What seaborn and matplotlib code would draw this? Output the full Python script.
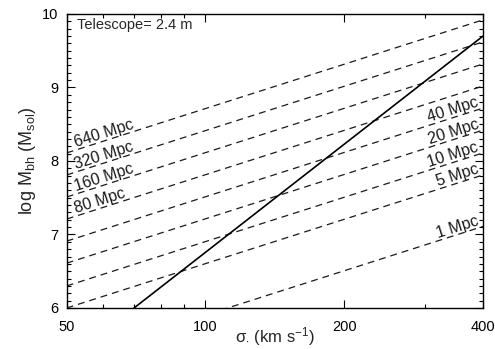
import numpy as np
import pandas as pd
import seaborn as sns
import matplotlib
matplotlib.use('Agg')
import matplotlib.pyplot as plt
from matplotlib.ticker import FixedLocator, FixedFormatter, NullFormatter, MultipleLocator

# distances (Mpc) of the dashed "resolvable" lines, read at sigma = 50 and 400
distances = [640, 320, 160, 80, 40, 20, 10, 5, 1]
sigma_ends = [50, 400]
logm_at_50 = [8.11, 7.81, 7.51, 7.21, 6.91, 6.61, 6.30, 6.00, 5.30]
logm_at_400 = [9.92, 9.62, 9.32, 9.02, 8.72, 8.42, 8.11, 7.81, 7.11]
left_labels = [640, 320, 160, 80]
right_labels = [40, 20, 10, 5, 1]

# M-sigma relation (solid line)
msig_sigma = [70, 400]
msig_logm = [6.0, 9.70]

xticks = [50, 100, 200, 400]
xminor = [60, 70, 80, 90, 300]

sns.set_style('ticks')
plt.rcParams['font.family'] = ['Liberation Sans', 'DejaVu Sans']
plt.rcParams['mathtext.fontset'] = 'custom'
plt.rcParams['mathtext.rm'] = 'Liberation Sans'
plt.rcParams['mathtext.it'] = 'Liberation Sans:italic'
plt.rcParams['mathtext.bf'] = 'Liberation Sans:bold'

rows = []
for d, m0, m1 in zip(distances, logm_at_50, logm_at_400):
    rows.append({'dist': d, 'sigma': sigma_ends[0], 'logM': m0})
    rows.append({'dist': d, 'sigma': sigma_ends[1], 'logM': m1})
df_lines = pd.DataFrame(rows)
df_msig = pd.DataFrame({'sigma': msig_sigma, 'logM': msig_logm})

fig = plt.figure(figsize=(4.95, 3.49), dpi=100)
ax = fig.add_axes([0.1347, 0.1175, 0.8411, 0.8424])

sns.lineplot(data=df_lines, x='sigma', y='logM', units='dist', estimator=None,
             color='#1a1a1a', linestyle=(0, (5.5, 4)), linewidth=0.9, ax=ax)
sns.lineplot(data=df_msig, x='sigma', y='logM', color='black', linewidth=1.2, ax=ax)

ax.set_xscale('log')
ax.set_xlim(50, 400)
ax.set_ylim(6, 10)
ax.xaxis.set_major_locator(FixedLocator(xticks))
ax.xaxis.set_major_formatter(FixedFormatter([str(t) for t in xticks]))
ax.xaxis.set_minor_locator(FixedLocator(xminor))
ax.xaxis.set_minor_formatter(NullFormatter())
ax.yaxis.set_major_locator(MultipleLocator(1))
ax.yaxis.set_minor_locator(MultipleLocator(0.1))

ax.tick_params(which='both', direction='in', top=True, right=True, width=0.8, colors='black')
ax.tick_params(which='major', length=5.5, labelsize=10.5)
ax.tick_params(axis='x', which='major', pad=9)
ax.tick_params(axis='y', which='major', pad=6)
ax.tick_params(which='minor', length=3)
for s in ax.spines.values():
    s.set_visible(True)
    s.set_linewidth(1.0)
    s.set_color('black')

ax.set_xlabel(r'$\mathrm{\sigma}_{\bullet}$ (km s$^{-1}$)', fontsize=12, labelpad=-7)
ax.set_ylabel(r'log M$_{\rm bh}$ (M$_{\rm sol}$)', fontsize=13, labelpad=3)

ax.text(0.025, 0.985, 'Telescope= 2.4 m', transform=ax.transAxes,
        ha='left', va='top', fontsize=10.5)

# labels along the dashed lines
fig.canvas.draw()
p0 = ax.transData.transform((sigma_ends[0], logm_at_50[0]))
p1 = ax.transData.transform((sigma_ends[1], logm_at_400[0]))
angle = np.degrees(np.arctan2(p1[1] - p0[1], p1[0] - p0[0]))

def line_value(s, m0, m1):
    f = np.log(s / sigma_ends[0]) / np.log(sigma_ends[1] / sigma_ends[0])
    return m0 + (m1 - m0) * f

for d, m0, m1 in zip(distances, logm_at_50, logm_at_400):
    if d in left_labels:
        s, ha = 52.5, 'left'
    else:
        s, ha = 393, 'right'
    ax.annotate(f'{d} Mpc', xy=(s, line_value(s, m0, m1)), xytext=(0, 2),
                textcoords='offset points', rotation=angle, rotation_mode='anchor',
                ha=ha, va='baseline', fontsize=11.5, color='#1a1a1a')

fig.savefig('out.png', dpi=100)
